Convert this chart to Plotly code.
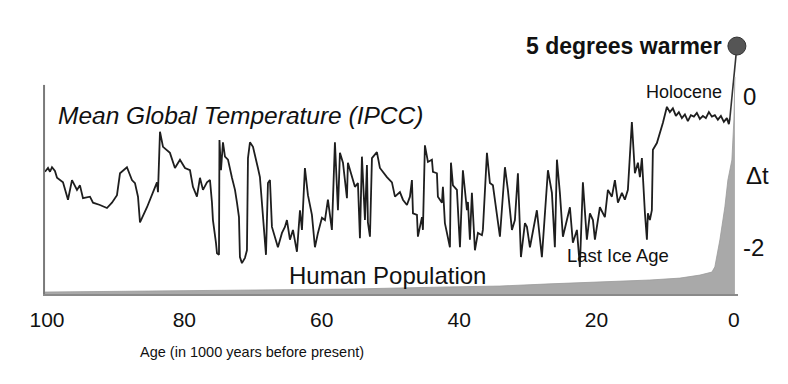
import plotly.graph_objects as go

# Temperature anomaly (deg C) vs age (thousand years before present)
age_k = [100.29, 99.85, 99.56, 99.27, 98.84, 98.54, 97.67, 96.94, 96.36, 95.63,
         95.20, 94.76, 93.74, 93.30, 92.29, 91.27, 90.54, 89.81, 89.37, 88.36,
         87.63, 87.19, 86.75, 86.46, 85.44, 84.57, 83.99, 83.84, 83.55, 83.11,
         82.10, 81.37, 80.64, 79.91, 79.18, 78.75, 78.17, 77.73, 77.29, 76.71,
         76.27, 75.98, 75.84, 75.40, 75.25, 74.96, 74.89, 74.67, 74.38, 74.09,
         73.65, 73.07, 72.63, 72.34, 72.05, 71.91, 71.62, 71.18, 70.89, 70.74,
         70.45, 70.01, 69.72, 69.29, 69.00, 68.70, 68.12, 67.83, 67.54, 67.25,
         66.81, 66.38, 65.79, 65.36, 65.07, 64.63, 64.19, 63.61, 63.17, 62.88,
         62.45, 62.01, 61.43, 60.99, 60.55, 59.97, 59.53, 59.10, 58.52, 58.08,
         57.64, 57.35, 56.91, 56.33, 56.19, 55.60, 55.17, 54.73, 54.44, 54.15,
         53.71, 53.42, 53.28, 52.98, 52.69, 51.97, 51.53, 50.51, 49.78, 49.34,
         48.62, 48.18, 47.60, 47.16, 46.87, 46.72, 46.14, 46.00, 45.41, 45.27,
         44.98, 44.54, 43.96, 43.81, 43.23, 43.09, 42.50, 42.36, 42.07, 41.34,
         41.19, 40.90, 40.32, 39.88, 39.45, 38.86, 38.72, 38.43, 38.14, 37.70,
         37.26, 36.68, 36.54, 35.95, 35.52, 35.08, 34.50, 34.06, 33.33, 32.90,
         32.31, 31.88, 31.44, 31.00, 30.42, 30.13, 29.69, 29.26, 28.68, 27.95,
         27.51, 27.07, 26.49, 26.06, 25.76, 25.33, 24.89, 24.31, 23.87, 23.44,
         22.85, 22.42, 21.98, 21.40, 20.96, 20.52, 20.23, 19.51, 18.78, 18.34,
         17.76, 17.32, 16.88, 16.30, 15.87, 15.43, 14.85, 14.41, 13.97, 13.68,
         13.39, 12.95, 12.66, 12.52, 12.23, 11.94, 11.79, 11.21, 10.77, 10.33,
         9.75, 9.32, 8.88, 8.44, 8.01, 7.57, 7.13, 6.70, 6.26, 5.82,
         5.39, 4.95, 4.51, 4.08, 3.64, 3.20, 2.77, 2.33, 1.89, 1.46,
         1.02, 0.73, 0.58]
temp_c = [-0.99, -0.94, -0.99, -0.93, -0.98, -1.07, -1.13, -1.36, -1.10, -1.23,
          -1.17, -1.34, -1.32, -1.40, -1.43, -1.47, -1.40, -1.30, -1.01, -0.93,
          -1.10, -1.14, -1.32, -1.66, -1.46, -1.26, -1.13, -1.26, -0.46, -0.66,
          -0.74, -0.94, -0.83, -0.94, -0.97, -1.19, -1.32, -1.07, -1.23, -1.13,
          -1.10, -1.40, -1.63, -1.93, -2.07, -2.09, -0.57, -0.97, -0.60, -0.79,
          -0.83, -1.07, -1.23, -1.40, -1.59, -2.12, -2.20, -2.13, -2.03, -0.81,
          -0.60, -0.66, -0.79, -0.94, -1.06, -1.40, -2.09, -1.14, -1.10, -1.72,
          -1.85, -1.99, -1.80, -1.72, -1.63, -1.89, -1.76, -2.05, -1.50, -1.76,
          -0.94, -1.30, -1.56, -1.99, -1.80, -1.60, -1.63, -1.36, -1.76, -0.60,
          -1.50, -0.74, -0.87, -1.34, -0.87, -1.06, -1.19, -1.14, -1.87, -0.79,
          -1.63, -0.90, -1.66, -1.85, -0.81, -0.73, -0.94, -1.06, -1.13, -1.32,
          -1.26, -1.36, -1.43, -1.32, -1.10, -1.54, -1.56, -1.85, -1.59, -1.76,
          -0.64, -0.86, -0.83, -0.99, -1.01, -1.32, -1.40, -1.19, -1.67, -1.99,
          -0.87, -1.17, -1.23, -1.99, -0.97, -1.50, -1.39, -1.89, -1.27, -2.03,
          -1.80, -1.83, -1.76, -0.74, -1.14, -1.17, -1.59, -1.85, -0.93, -1.23,
          -1.76, -1.63, -1.01, -2.12, -1.67, -1.72, -1.99, -1.80, -1.50, -2.12,
          -1.59, -0.97, -1.27, -1.99, -0.83, -1.27, -1.85, -1.63, -1.46, -1.93,
          -1.76, -2.25, -1.13, -1.89, -1.54, -1.63, -1.89, -1.46, -1.59, -1.23,
          -1.32, -1.10, -1.40, -1.27, -1.36, -1.23, -0.33, -1.01, -0.87, -1.06,
          -0.81, -1.54, -1.89, -1.54, -1.63, -1.50, -0.70, -0.61, -0.48, -0.34,
          -0.13, -0.20, -0.15, -0.25, -0.20, -0.28, -0.23, -0.32, -0.24, -0.26,
          -0.21, -0.29, -0.25, -0.28, -0.20, -0.26, -0.24, -0.30, -0.25, -0.33,
          -0.28, -0.36, -0.28]

# Projection to "5 degrees warmer"
proj_age = [0.58, -0.44]
proj_temp = [-0.28, 0.675]

# Human population (relative index, 0-100)
pop_age = [100.58, 85.44, 70.45, 55.90, 41.34, 34.06, 26.78, 19.51, 12.23, 7.86,
           4.95, 3.20, 2.77, 2.04, 1.31, 0.87, 0.29, 0.0, -0.15]
pop_idx = [0.7, 1.1, 1.5, 1.8, 2.6, 2.9, 3.7, 4.4, 5.1, 5.8,
           6.9, 8.0, 9.9, 19.7, 31.8, 41.6, 48.9, 63.5, 79.2]

x_ticks = [100, 80, 60, 40, 20, 0]
y_ticks = [0, -2]

fig = go.Figure()
fig.add_trace(go.Scatter(x=pop_age, y=pop_idx, yaxis="y2", mode="lines",
                         fill="tozeroy", fillcolor="#a9a9a9",
                         line=dict(color="#9a9a9a", width=0.8), hoverinfo="skip"))
fig.add_trace(go.Scatter(x=age_k, y=temp_c, mode="lines",
                         line=dict(color="#1e1e1e", width=1.8)))
fig.add_trace(go.Scatter(x=proj_age, y=proj_temp, mode="lines",
                         line=dict(color="#333333", width=1.6), cliponaxis=False))
fig.add_trace(go.Scatter(x=proj_age[-1:], y=proj_temp[-1:], mode="markers",
                         marker=dict(size=18, color="#555555",
                                     line=dict(color="#333333", width=1)),
                         cliponaxis=False))

# page body adds an 8px offset, so the figure is 8px smaller with 8px less margin
fig.update_layout(
    width=780, height=376,
    margin=dict(l=35, r=50, t=12, b=90),
    paper_bgcolor="white", plot_bgcolor="white",
    showlegend=False,
    xaxis=dict(range=[100.58, -0.6], tickvals=x_ticks,
               ticktext=[str(v) for v in x_ticks],
               tickfont=dict(family="Liberation Sans, Arial", size=21, color="#111111"),
               ticks="", ticklabelstandoff=6,
               showgrid=False, zeroline=False,
               showline=True, linecolor="#8a8a8a", linewidth=2),
    yaxis=dict(range=[-2.609, 1.02], side="right", tickvals=y_ticks,
               ticktext=["0", "-2"],
               tickfont=dict(family="Liberation Sans, Arial", size=24, color="#111111"),
               ticks="", ticklabelstandoff=4,
               showgrid=False, zeroline=False, showline=False),
    yaxis2=dict(range=[0, 100], overlaying="y", visible=False),
    shapes=[dict(type="line", xref="paper", yref="y", x0=0.0015, x1=0.0015,
                 y0=-2.609, y1=0.16, line=dict(color="#7a7a7a", width=2))],
)

ann_font = "Liberation Sans, Arial"
anns = [
    dict(text="<i>Mean Global Temperature (IPCC)</i>", x=0.020, y=0.653,
         xanchor="left", size=24.5),
    dict(text="Human Population", x=0.3525, y=0.069, xanchor="left", size=24),
    dict(text="<b>5 degrees warmer</b>", x=0.978, y=0.905, xanchor="right", size=23),
    dict(text="Holocene", x=0.978, y=0.737, xanchor="right", size=18),
    dict(text="Last Ice Age", x=0.7525, y=0.139, xanchor="left", size=18.5),
    dict(text="Δt", x=1.010, y=0.434, xanchor="left", size=24),
]
for a in anns:
    fig.add_annotation(text=a["text"], xref="paper", yref="paper", x=a["x"], y=a["y"],
                       xanchor=a["xanchor"], yanchor="middle", showarrow=False,
                       font=dict(family=ann_font, size=a["size"], color="#111111"),
                       borderpad=0)
fig.add_annotation(text="Age (in 1000 years before present)", xref="paper", yref="paper",
                   x=0.301, y=-0.212, xanchor="center", yanchor="middle", showarrow=False,
                   font=dict(family="Liberation Sans, Arial", size=14.5, color="#111111"),
                   borderpad=0)

fig.write_html("out.html")
